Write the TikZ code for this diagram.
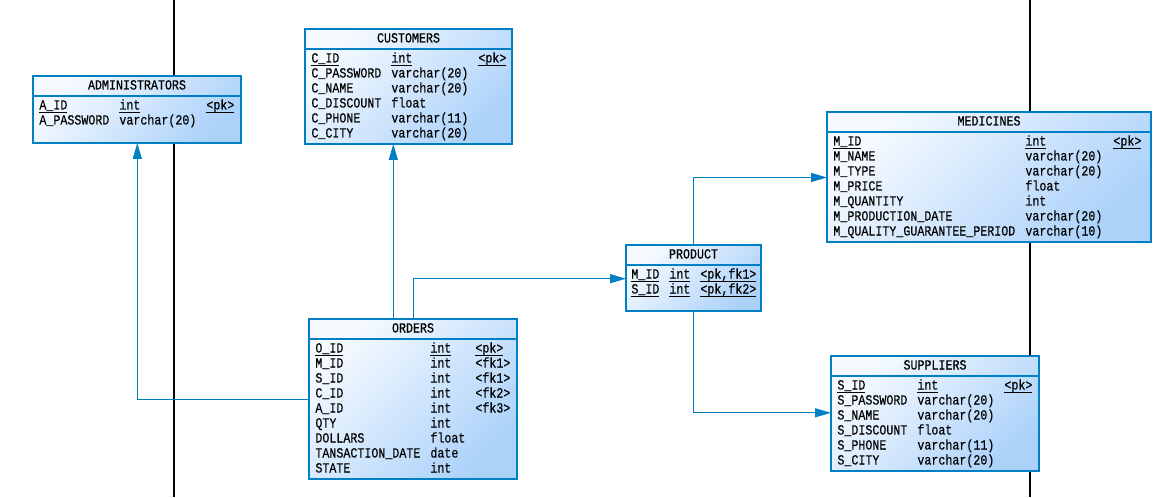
\documentclass[tikz,border=0pt]{standalone}
\usepackage{fontspec}
\setmainfont{Liberation Mono}
\newfontfamily\erfont{Liberation Mono}[FakeBold=0.35]
\usetikzlibrary{arrows.meta}
\definecolor{tblborder}{RGB}{0,128,196}
\definecolor{tbllight}{RGB}{246,250,255}
\definecolor{tbldark}{RGB}{172,210,250}
% key columns are underlined just below the baseline
\newcommand\keyul[1]{\underline{\smash{#1}}}
\tikzset{
  tbl/.style={draw=tblborder, line width=0.6pt, anchor=north west, inner sep=0pt, outer sep=0pt,
    top color=tbllight, bottom color=tbldark, shading angle=45},
  sep/.style={draw=tblborder, line width=0.6pt},
  cell/.style={anchor=base west, inner sep=0pt, yscale=1.2, font=\erfont\fontsize{5.83pt}{7.5pt}\selectfont},
  title/.style={anchor=base, inner sep=0pt, yscale=1.2, font=\erfont\fontsize{5.83pt}{7.5pt}\selectfont},
  conn/.style={draw=tblborder, line width=0.6pt, -{Triangle[length=8pt,width=4.5pt]}},
  pageline/.style={draw=black, line width=0.6pt}
}
\begin{document}
\begin{tikzpicture}[x=0.5pt, y=-0.5pt]
\useasboundingbox (0,0) rectangle (1170,497);
\fill[white] (0,0) rectangle (1170,497);

% page borders behind the tables
\draw[pageline] (174,0) -- (174,497);
\draw[pageline] (1030,0) -- (1030,497);

% ---------- ADMINISTRATORS ----------
\node[tbl, minimum width=104pt, minimum height=33.5pt] (admin) at (33,76) {};
\draw[sep] ([yshift=-10pt]admin.north west) -- ([yshift=-10pt]admin.north east);
\node[title] (admin-title) at ([yshift=-6.75pt]admin.north) {ADMINISTRATORS};
\foreach \nm/\ty [count=\i from 0] in {{\keyul{A\_ID}}/{\keyul{int}}, A\_PASSWORD/varchar(20)} {
  \node[cell] (admin-n\i) at (39, 109.5+15*\i) {\nm};
  \node[cell] (admin-t\i) at (119, 109.5+15*\i) {\ty};
}
\node[cell] (admin-k0) at (206,109.5) {\keyul{<pk>}};

% ---------- CUSTOMERS ----------
\node[tbl, minimum width=103.5pt, minimum height=57.5pt] (cust) at (305,29) {};
\draw[sep] ([yshift=-10pt]cust.north west) -- ([yshift=-10pt]cust.north east);
\node[title] (cust-title) at ([yshift=-6.75pt]cust.north) {CUSTOMERS};
\foreach \nm/\ty [count=\i from 0] in {{\keyul{C\_ID}}/{\keyul{int}}, C\_PASSWORD/varchar(20),
    C\_NAME/varchar(20), C\_DISCOUNT/float, C\_PHONE/varchar(11), C\_CITY/varchar(20)} {
  \node[cell] (cust-n\i) at (311, 62.5+15*\i) {\nm};
  \node[cell] (cust-t\i) at (391, 62.5+15*\i) {\ty};
}
\node[cell] (cust-k0) at (478,62.5) {\keyul{<pk>}};

% ---------- MEDICINES ----------
\node[tbl, minimum width=162pt, minimum height=65pt] (med) at (827,112) {};
\draw[sep] ([yshift=-10pt]med.north west) -- ([yshift=-10pt]med.north east);
\node[title] (med-title) at ([yshift=-6.75pt]med.north) {MEDICINES};
\foreach \nm/\ty [count=\i from 0] in {{\keyul{M\_ID}}/{\keyul{int}}, M\_NAME/varchar(20),
    M\_TYPE/varchar(20), M\_PRICE/float, M\_QUANTITY/int, M\_PRODUCTION\_DATE/varchar(20),
    M\_QUALITY\_GUARANTEE\_PERIOD/varchar(10)} {
  \node[cell] (med-n\i) at (833, 145.5+15*\i) {\nm};
  \node[cell] (med-t\i) at (1025, 145.5+15*\i) {\ty};
}
\node[cell] (med-k0) at (1113,145.5) {\keyul{<pk>}};

% ---------- PRODUCT ----------
\node[tbl, minimum width=67.5pt, minimum height=33pt] (prod) at (626,245) {};
\draw[sep] ([yshift=-10pt]prod.north west) -- ([yshift=-10pt]prod.north east);
\node[title] (prod-title) at ([yshift=-6.75pt]prod.north) {PRODUCT};
\foreach \nm/\ty/\ky [count=\i from 0] in {{\keyul{M\_ID}}/{\keyul{int}}/{\keyul{<pk,fk1>}},
    {\keyul{S\_ID}}/{\keyul{int}}/{\keyul{<pk,fk2>}}} {
  \node[cell] (prod-n\i) at (631, 278.5+15*\i) {\nm};
  \node[cell] (prod-t\i) at (669, 278.5+15*\i) {\ty};
  \node[cell] (prod-k\i) at (700, 278.5+15*\i) {\ky};
}

% ---------- ORDERS ----------
\node[tbl, minimum width=104pt, minimum height=80pt] (orders) at (309,319) {};
\draw[sep] ([yshift=-10pt]orders.north west) -- ([yshift=-10pt]orders.north east);
\node[title] (orders-title) at ([yshift=-6.75pt]orders.north) {ORDERS};
\foreach \nm/\ty [count=\i from 0] in {{\keyul{O\_ID}}/{\keyul{int}}, M\_ID/int, S\_ID/int,
    C\_ID/int, A\_ID/int, QTY/int, DOLLARS/float, TANSACTION\_DATE/date, STATE/int} {
  \node[cell] (orders-n\i) at (315, 352.5+15*\i) {\nm};
  \node[cell] (orders-t\i) at (430, 352.5+15*\i) {\ty};
}
\foreach \ky [count=\i from 0] in {\keyul{<pk>}, <fk1>, <fk1>, <fk2>, <fk3>} {
  \node[cell] (orders-k\i) at (475, 352.5+15*\i) {\ky};
}

% ---------- SUPPLIERS ----------
\node[tbl, minimum width=104pt, minimum height=57.5pt] (sup) at (831,356) {};
\draw[sep] ([yshift=-10pt]sup.north west) -- ([yshift=-10pt]sup.north east);
\node[title] (sup-title) at ([yshift=-6.75pt]sup.north) {SUPPLIERS};
\foreach \nm/\ty [count=\i from 0] in {{\keyul{S\_ID}}/{\keyul{int}}, S\_PASSWORD/varchar(20),
    S\_NAME/varchar(20), S\_DISCOUNT/float, S\_PHONE/varchar(11), S\_CITY/varchar(20)} {
  \node[cell] (sup-n\i) at (837, 389.5+15*\i) {\nm};
  \node[cell] (sup-t\i) at (917, 389.5+15*\i) {\ty};
}
\node[cell] (sup-k0) at (1004,389.5) {\keyul{<pk>}};

% ---------- references ----------
\draw[conn] (orders.west |- 0,399.3) -| (admin.south -| 137.3,0);
\draw[conn] (orders.north -| 393.3,0) -- (cust.south -| 393.3,0);
\draw[conn] (orders.north -| 413.3,0) |- (prod.west |- 0,278.7);
\draw[conn] (prod.north -| 693.3,0) |- (med.west |- 0,177.5);
\draw[conn] (prod.south -| 693.3,0) |- (sup.west |- 0,412.8);
\end{tikzpicture}
\end{document}
